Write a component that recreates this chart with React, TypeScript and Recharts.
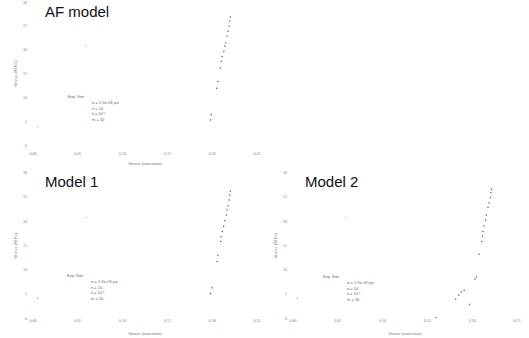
import { ScatterChart, Scatter, XAxis, YAxis, Label } from "recharts";

const xTicks = [0, 0.05, 0.1, 0.15, 0.2, 0.25];
const yTicks = [0, 5, 10, 15, 20, 25, 30];

// AF model
const afStrain = [0.198, 0.199, 0.205, 0.2065, 0.209, 0.21, 0.211, 0.213, 0.214, 0.215, 0.2165, 0.2176, 0.2188, 0.2195, 0.2203];
const afStress = [5.4, 6.5, 12.0, 13.4, 16.2, 17.6, 18.6, 19.6, 20.7, 21.4, 22.8, 23.8, 24.9, 25.9, 26.8];

// Model 1
const m1Strain = [0.198, 0.1998, 0.2054, 0.2065, 0.2095, 0.21, 0.2114, 0.2128, 0.214, 0.2158, 0.2165, 0.2176, 0.2188, 0.2195, 0.2203];
const m1Stress = [5.1, 6.3, 11.7, 13.0, 15.8, 16.8, 17.9, 18.9, 20.1, 21.3, 22.3, 23.2, 24.4, 25.4, 26.2];

// Model 2
const m2Strain = [0.152, 0.16, 0.1816, 0.185, 0.188, 0.191, 0.197, 0.203, 0.2047, 0.2076, 0.2106, 0.2114, 0.212, 0.2132, 0.215, 0.2158, 0.2176, 0.2188, 0.2203, 0.221, 0.2214];
const m2Stress = [-0.6, 0.1, 4.0, 4.8, 5.4, 5.8, 2.9, 8.1, 8.5, 13.2, 15.8, 16.9, 17.9, 19.0, 20.2, 21.3, 22.9, 23.8, 24.9, 25.9, 26.6];

// stray markers seen in every panel
const markStrain = [0.005, 0.059, 0.101, 0.15];
const markStress = [4.1, 20.8, -0.4, -0.2];

const toPts = (xs: number[], ys: number[]) => xs.map((x, i) => ({ x, y: ys[i] }));

const dot = (props: any) => <circle cx={props.cx} cy={props.cy} r={0.75} fill="#555" />;
const faintDot = (props: any) => <circle cx={props.cx} cy={props.cy} r={0.6} fill="#999" />;

type PanelProps = {
    left: number;
    top: number;
    title: string;
    data: { x: number; y: number }[];
    marginTop: number;
    axisHeight: number;
    tickMargin: number;
    legend: string[];
    legendX: number;
    legendY: number;
    itemX: number;
};

const Panel = ({ left, top, title, data, marginTop, axisHeight, tickMargin, legend, legendX, legendY, itemX }: PanelProps) => {
    const tiny = { position: "absolute" as const, fontSize: 4, color: "#666", fontFamily: "Liberation Sans, Arial, sans-serif", whiteSpace: "nowrap" as const, lineHeight: "5.8px" };
    return (
        <div style={{ position: "absolute", left, top, width: 264, height: 168 }}>
            <ScatterChart width={264} height={168} margin={{ top: marginTop, right: 7, bottom: 0, left: 0 }}>
                <XAxis
                    type="number"
                    dataKey="x"
                    domain={[0, 0.25]}
                    ticks={xTicks}
                    tickFormatter={(v: number) => v.toFixed(2)}
                    axisLine={false}
                    tickLine={false}
                    tickSize={0}
                    tickMargin={tickMargin}
                    height={axisHeight}
                    tick={{ fontSize: 4, fill: "#777" }}
                >
                    <Label value="Strain (mm/mm)" position="insideBottom" offset={3} style={{ fontSize: 5, fill: "#777" }} />
                </XAxis>
                <YAxis
                    type="number"
                    dataKey="y"
                    domain={[0, 30]}
                    ticks={yTicks}
                    allowDataOverflow
                    axisLine={false}
                    tickLine={false}
                    tickSize={0}
                    tickMargin={6}
                    width={33}
                    tick={{ fontSize: 4, fill: "#777" }}
                >
                    <Label value="Stress (MPa)" angle={-90} position="insideLeft" offset={15} style={{ fontSize: 5, fill: "#777", textAnchor: "middle" }} />
                </YAxis>
                <Scatter data={toPts(markStrain, markStress)} shape={faintDot} isAnimationActive={false} />
                <Scatter data={data} shape={dot} isAnimationActive={false} />
            </ScatterChart>
            <div style={{ position: "absolute", left: 45, top: 3, fontSize: 15, fontFamily: "Liberation Sans, Arial, sans-serif", color: "#111" }}>{title}</div>
            <div style={{ ...tiny, left: legendX, top: legendY }}>{legend[0]}</div>
            {legend.slice(1).map((t, i) => (
                <div key={i} style={{ ...tiny, left: itemX, top: legendY + 5.8 * (i + 1) }}>{t}</div>
            ))}
        </div>
    );
};

export default function App() {
    return (
        <div style={{ position: "absolute", left: 0, top: 0, width: 529, height: 338, background: "#fff", overflow: "hidden" }}>
            <Panel
                left={0}
                top={0}
                title="AF model"
                data={toPts(afStrain, afStress)}
                marginTop={1.5}
                axisHeight={22}
                tickMargin={6}
                legend={["Exp. Sim", "σ = 1.9e-03 psi", "n = 10", "k = 10⁻¹", "m = 10"]}
                legendX={68}
                legendY={94}
                itemX={92}
            />
            <Panel
                left={0}
                top={170}
                title="Model 1"
                data={toPts(m1Strain, m1Stress)}
                marginTop={2.7}
                axisHeight={19.7}
                tickMargin={1}
                legend={["Exp. Sim", "σ = 1.9e-03 psi", "n = 10", "k = 10⁻¹", "m = 10"]}
                legendX={67}
                legendY={103}
                itemX={91}
            />
            <Panel
                left={260}
                top={170}
                title="Model 2"
                data={toPts(m2Strain, m2Stress)}
                marginTop={2.7}
                axisHeight={19.7}
                tickMargin={1}
                legend={["Exp. Sim", "σ = 1.9e-03 psi", "n = 10", "k = 10⁻¹", "m = 10"]}
                legendX={63}
                legendY={104}
                itemX={87}
            />
        </div>
    );
}
